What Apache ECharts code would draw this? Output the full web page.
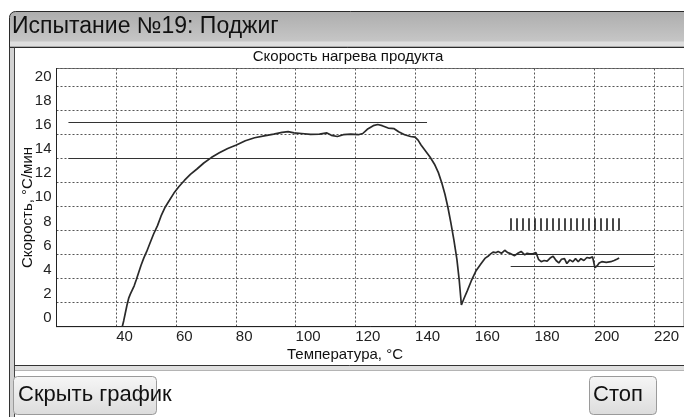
<!DOCTYPE html>
<html><head><meta charset="utf-8">
<script src="https://cdn.jsdelivr.net/npm/echarts@6/dist/echarts.min.js"></script>
<style>html,body{margin:0;padding:0;background:#fff}#c{width:684px;height:417px}</style>
</head><body><div id="c"></div>
<script>
const windowTitle = 'Испытание №19: Поджиг';
const chartTitle = 'Скорость нагрева продукта';
const xAxisName = 'Температура, °С';
const yAxisName = 'Скорость, °С/мин';
const buttonLabels = ['Скрыть график', 'Стоп'];

const temps = [42.0, 42.5, 43.0, 43.6, 44.2, 44.7, 45.3, 46.0, 46.7, 47.5,
  48.3, 49.2, 50.2, 51.3, 52.5, 53.8, 55.0, 56.4, 57.8, 59.3,
  61.0, 62.8, 64.8, 67.0, 69.3, 71.8, 74.5, 77.3, 80.2, 83.2,
  86.3, 89.5, 92.7, 95.5, 97.5, 99.5, 102, 105, 108, 110.5,
  112, 114, 116, 118.5, 121, 122.5, 124, 126, 127.5, 129,
  131, 133, 134.5, 136.5, 138.5, 140, 141, 142, 143.5, 145,
  146.5, 147.8, 149, 150, 151, 152, 153, 154, 154.8, 155.5,
  156.3, 157.5, 158.8, 160.3, 162, 163.5, 164.4, 165.3, 166.1, 167,
  167.8, 168.9, 170, 171, 171.7, 172.5, 173.3, 174.4, 175.5, 176.7,
  177.5, 178.3, 179.4, 180.5, 181.3, 182.2, 183.2, 184.2, 185.2, 186.2,
  187.2, 188.1, 189, 190, 190.8, 191.8, 192.8, 193.7, 194.6, 195.5,
  196.5, 197.5, 198.5, 199.4, 200.2, 200.9, 201.6, 202.5, 204, 205.5,
  206.6, 207.5, 208.3];
const rates = [0, 0.5, 1.1, 1.8, 2.4, 2.7, 2.85, 3.4, 3.9, 4.5,
  5.1, 5.7, 6.25, 6.95, 7.7, 8.4, 9.2, 9.95, 10.5, 11.1,
  11.65, 12.15, 12.65, 13.1, 13.6, 14.05, 14.45, 14.8, 15.1, 15.45,
  15.7, 15.85, 16.0, 16.15, 16.2, 16.1, 16.05, 15.98, 16.0, 16.1,
  15.9, 15.8, 15.95, 16.0, 15.95, 16.05, 16.4, 16.7, 16.8, 16.7,
  16.5, 16.45, 16.2, 15.95, 15.8, 15.75, 15.5, 15.1, 14.6, 14.1,
  13.5, 12.8, 11.9, 11.0, 9.9, 8.6, 7.2, 5.6, 3.8, 1.8,
  2.3, 3.0, 3.8, 4.6, 5.2, 5.7, 5.85, 6.05, 6.2, 6.15,
  6.25, 6.1, 6.35, 6.15, 6.1, 6.0, 5.9, 6.1, 6.25, 5.97,
  6.1, 6.05, 6.05, 6.15, 5.6, 5.4, 5.5, 5.45, 5.7, 5.85,
  5.5, 5.3, 5.6, 5.65, 5.25, 5.55, 5.4, 5.65, 5.4, 5.65,
  5.5, 5.75, 5.7, 5.8, 4.9, 5.05, 5.3, 5.4, 5.35, 5.4,
  5.5, 5.6, 5.7];

// reference (limit) lines
const refFrom = [24, 24, 172, 172];
const refTo = [144, 144, 220, 220];
const refValue = [17, 14, 6, 5];

// vertical marker strokes
const markerTemps = [172, 174, 176, 178, 180, 182, 184, 186, 188, 190, 192, 194, 196, 198, 200, 202, 204, 206, 208];
const markerLow = 8;
const markerHigh = 9;

const FONT = 'Liberation Sans, Arial, sans-serif';

const curve = temps.map((t, i) => [t, rates[i]]);
const refLines = refFrom.map((f, i) => ({ coords: [[f, refValue[i]], [refTo[i], refValue[i]]] }));
const markers = markerTemps.map(t => ({ coords: [[t, markerLow], [t, markerHigh]] }));

const chart = echarts.init(document.getElementById('c'), null, { renderer: 'canvas' });

const grad = (c1, c2) => new echarts.graphic.LinearGradient(0, 0, 0, 1, [{ offset: 0, color: c1 }, { offset: 1, color: c2 }]);

chart.setOption({
  animation: false,
  backgroundColor: '#ffffff',
  textStyle: { fontFamily: FONT },
  grid: { left: 56.5, right: -2.5, top: 68.5, bottom: 90.3, show: true, borderColor: '#777', borderWidth: 1 },
  xAxis: {
    type: 'value', min: 20, max: 230, interval: 20,
    axisLine: { show: true, onZero: false, lineStyle: { color: '#222', width: 1 } },
    axisTick: { show: false },
    splitLine: { show: true, lineStyle: { color: '#555', type: [2, 2], width: 1 } },
    axisLabel: {
      showMinLabel: false, showMaxLabel: false, margin: 3, align: 'left',
      fontSize: 15, lineHeight: 15, color: '#222', fontFamily: FONT
    }
  },
  yAxis: {
    type: 'value', min: 0, max: 21.45, interval: 2,
    axisLine: { show: true, lineStyle: { color: '#222', width: 1 } },
    axisTick: { show: false },
    splitLine: { show: true, lineStyle: { color: '#555', type: [2, 2], width: 1 } },
    axisLabel: { showMaxLabel: false, margin: 5, fontSize: 15, lineHeight: 18, verticalAlign: 'bottom', color: '#222', fontFamily: FONT }
  },
  series: [
    { type: 'line', data: curve, showSymbol: false, symbol: 'none', lineStyle: { color: '#2a2a2a', width: 1.7 }, z: 5 },
    { type: 'lines', coordinateSystem: 'cartesian2d', data: refLines, lineStyle: { color: '#333', width: 1, opacity: 1 }, z: 4 },
    { type: 'lines', coordinateSystem: 'cartesian2d', data: markers, lineStyle: { color: '#1a1a1a', width: 1.6, opacity: 1 }, z: 4 }
  ],
  graphic: [
    // title bar
    { type: 'rect', shape: { x: 9.5, y: 11.5, width: 700, height: 35.5, r: [6, 0, 0, 0] }, style: { fill: grad('#adadad', '#cbcbcb'), stroke: '#2a2a2a', lineWidth: 1 } },
    { type: 'rect', shape: { x: 10, y: 41.5, width: 700, height: 5 }, style: { fill: '#dedede' } },
    { type: 'line', shape: { x1: 9.5, y1: 47.5, x2: 700, y2: 47.5 }, style: { stroke: '#2a2a2a', lineWidth: 1 } },
    { type: 'text', style: { text: windowTitle, x: 12, y: 27, font: '23px ' + FONT, fill: '#111', verticalAlign: 'middle' } },
    // left frame band
    { type: 'rect', shape: { x: 10, y: 48, width: 4.5, height: 370 }, style: { fill: '#d2d2d2' } },
    { type: 'line', shape: { x1: 9.5, y1: 47, x2: 9.5, y2: 417 }, style: { stroke: '#333', lineWidth: 1 } },
    { type: 'line', shape: { x1: 14.5, y1: 47.5, x2: 14.5, y2: 417 }, style: { stroke: '#444', lineWidth: 1 } },
    // panel bottom
    { type: 'line', shape: { x1: 14.5, y1: 365.5, x2: 700, y2: 365.5 }, style: { stroke: '#333', lineWidth: 1 } },
    { type: 'rect', shape: { x: 15, y: 366, width: 690, height: 4 }, style: { fill: '#dfdfdf' } },
    { type: 'line', shape: { x1: 15, y1: 370.5, x2: 700, y2: 370.5 }, style: { stroke: '#b4b4b4', lineWidth: 1 } },
    // texts
    { type: 'text', style: { text: chartTitle, x: 348, y: 57.2, font: '15px ' + FONT, fill: '#111', align: 'center', verticalAlign: 'middle' } },
    { type: 'text', rotation: Math.PI / 2, x: 27.5, y: 207.5, style: { text: yAxisName, x: 0, y: 0, font: '15px ' + FONT, fill: '#111', align: 'center', verticalAlign: 'middle' } },
    { type: 'text', style: { text: xAxisName, x: 345, y: 355, font: '15px ' + FONT, fill: '#111', align: 'center', verticalAlign: 'middle' } },
    // buttons
    { type: 'rect', shape: { x: 13.5, y: 376.5, width: 143, height: 38, r: 4 }, style: { fill: grad('#f6f6f6', '#dcdcdc'), stroke: '#9a9a9a', lineWidth: 1 } },
    { type: 'text', style: { text: buttonLabels[0], x: 18, y: 395, font: '22px ' + FONT, fill: '#111', verticalAlign: 'middle' } },
    { type: 'rect', shape: { x: 589.5, y: 376.5, width: 67, height: 38, r: 4 }, style: { fill: grad('#f6f6f6', '#dcdcdc'), stroke: '#9a9a9a', lineWidth: 1 } },
    { type: 'text', style: { text: buttonLabels[1], x: 593, y: 395, font: '22px ' + FONT, fill: '#111', verticalAlign: 'middle' } }
  ]
});
</script></body></html>
